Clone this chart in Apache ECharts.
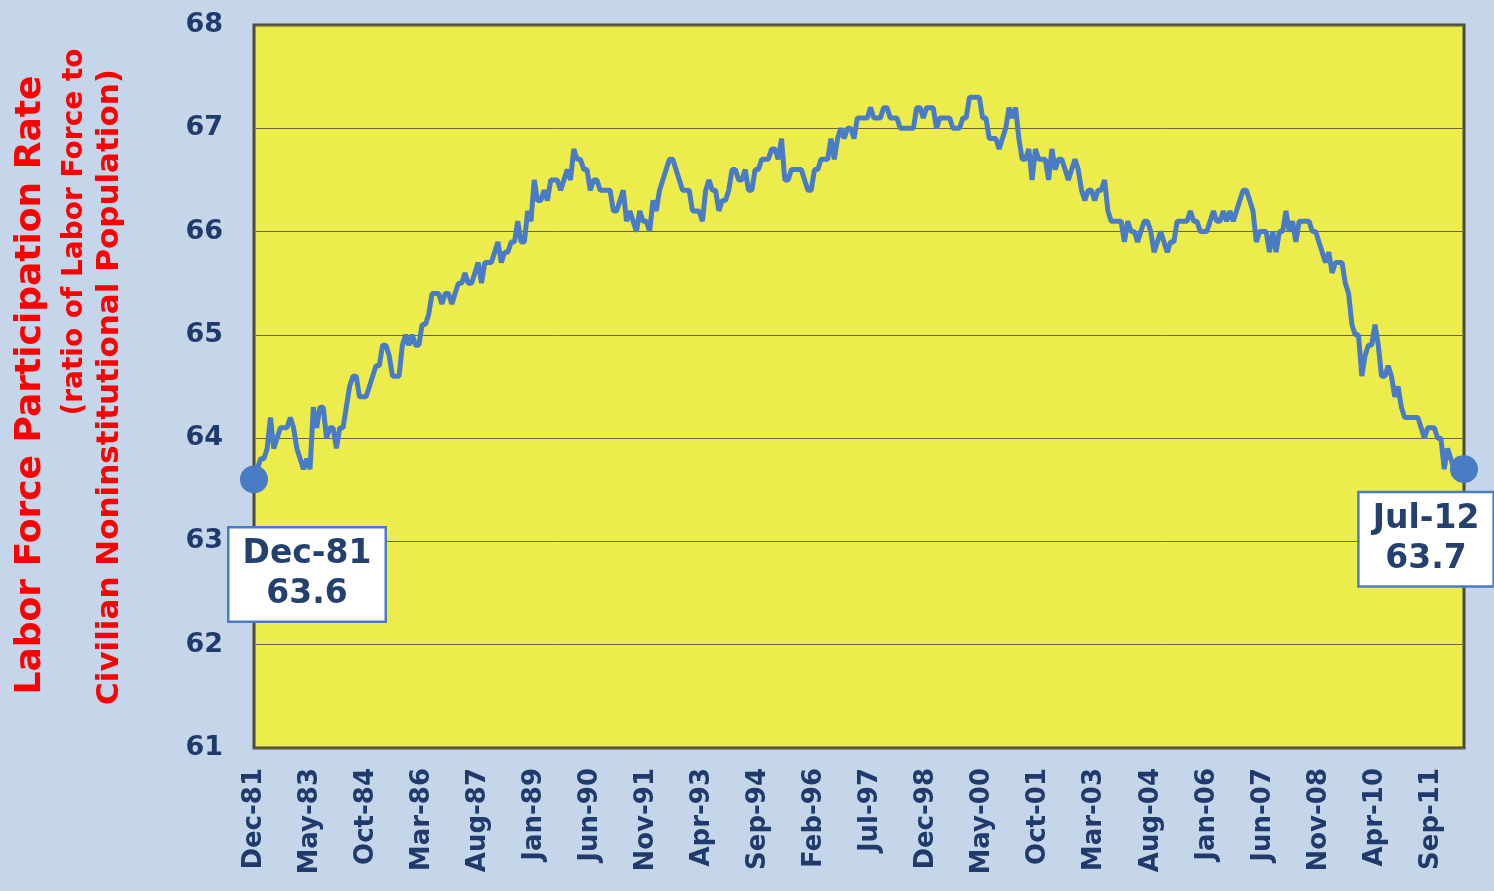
<!DOCTYPE html>
<html>
<head>
<meta charset="utf-8">
<title>Labor Force Participation Rate</title>
<script src="https://cdn.jsdelivr.net/npm/echarts@6/dist/echarts.min.js"></script>
<style>
  html, body { margin: 0; padding: 0; background: #c6d6ea; }
  #chart { width: 1494px; height: 891px; }
</style>
</head>
<body>
<div id="chart"></div>
<script>
// monthly rate, Dec-81 .. Jul-12
const rate1981 = [63.6]
const rate1982 = [63.7, 63.8, 63.8, 63.9, 64.2, 63.9, 64.0, 64.1, 64.1, 64.1, 64.2, 64.1]
const rate1983 = [63.9, 63.8, 63.7, 63.8, 63.7, 64.3, 64.1, 64.3, 64.3, 64.0, 64.1, 64.1]
const rate1984 = [63.9, 64.1, 64.1, 64.3, 64.5, 64.6, 64.6, 64.4, 64.4, 64.4, 64.5, 64.6]
const rate1985 = [64.7, 64.7, 64.9, 64.9, 64.8, 64.6, 64.6, 64.6, 64.9, 65.0, 64.9, 65.0]
const rate1986 = [64.9, 64.9, 65.1, 65.1, 65.2, 65.4, 65.4, 65.4, 65.3, 65.4, 65.4, 65.3]
const rate1987 = [65.4, 65.5, 65.5, 65.6, 65.5, 65.5, 65.6, 65.7, 65.5, 65.7, 65.7, 65.7]
const rate1988 = [65.8, 65.9, 65.7, 65.8, 65.8, 65.9, 65.9, 66.1, 65.9, 65.9, 66.2, 66.1]
const rate1989 = [66.5, 66.3, 66.3, 66.4, 66.3, 66.5, 66.5, 66.5, 66.4, 66.5, 66.6, 66.5]
const rate1990 = [66.8, 66.7, 66.7, 66.6, 66.6, 66.4, 66.5, 66.5, 66.4, 66.4, 66.4, 66.4]
const rate1991 = [66.2, 66.2, 66.3, 66.4, 66.1, 66.2, 66.1, 66.0, 66.2, 66.1, 66.1, 66.0]
const rate1992 = [66.3, 66.2, 66.4, 66.5, 66.6, 66.7, 66.7, 66.6, 66.5, 66.4, 66.4, 66.4]
const rate1993 = [66.2, 66.2, 66.2, 66.1, 66.4, 66.5, 66.4, 66.4, 66.2, 66.3, 66.3, 66.4]
const rate1994 = [66.6, 66.6, 66.5, 66.5, 66.6, 66.4, 66.4, 66.6, 66.6, 66.7, 66.7, 66.7]
const rate1995 = [66.8, 66.8, 66.7, 66.9, 66.5, 66.5, 66.6, 66.6, 66.6, 66.6, 66.5, 66.4]
const rate1996 = [66.4, 66.6, 66.6, 66.7, 66.7, 66.7, 66.9, 66.7, 66.9, 67.0, 66.9, 67.0]
const rate1997 = [67.0, 66.9, 67.1, 67.1, 67.1, 67.1, 67.2, 67.1, 67.1, 67.1, 67.2, 67.2]
const rate1998 = [67.1, 67.1, 67.1, 67.0, 67.0, 67.0, 67.0, 67.0, 67.2, 67.2, 67.1, 67.2]
const rate1999 = [67.2, 67.2, 67.0, 67.1, 67.1, 67.1, 67.1, 67.0, 67.0, 67.0, 67.1, 67.1]
const rate2000 = [67.3, 67.3, 67.3, 67.3, 67.1, 67.1, 66.9, 66.9, 66.9, 66.8, 66.9, 67.0]
const rate2001 = [67.2, 67.1, 67.2, 66.9, 66.7, 66.7, 66.8, 66.5, 66.8, 66.7, 66.7, 66.7]
const rate2002 = [66.5, 66.8, 66.6, 66.7, 66.7, 66.6, 66.5, 66.6, 66.7, 66.6, 66.4, 66.3]
const rate2003 = [66.4, 66.4, 66.3, 66.4, 66.4, 66.5, 66.2, 66.1, 66.1, 66.1, 66.1, 65.9]
const rate2004 = [66.1, 66.0, 66.0, 65.9, 66.0, 66.1, 66.1, 66.0, 65.8, 65.9, 66.0, 65.9]
const rate2005 = [65.8, 65.9, 65.9, 66.1, 66.1, 66.1, 66.1, 66.2, 66.1, 66.1, 66.0, 66.0]
const rate2006 = [66.0, 66.1, 66.2, 66.1, 66.1, 66.2, 66.1, 66.2, 66.1, 66.2, 66.3, 66.4]
const rate2007 = [66.4, 66.3, 66.2, 65.9, 66.0, 66.0, 66.0, 65.8, 66.0, 65.8, 66.0, 66.0]
const rate2008 = [66.2, 66.0, 66.1, 65.9, 66.1, 66.1, 66.1, 66.1, 66.0, 66.0, 65.9, 65.8]
const rate2009 = [65.7, 65.8, 65.6, 65.7, 65.7, 65.7, 65.5, 65.4, 65.1, 65.0, 65.0, 64.6]
const rate2010 = [64.8, 64.9, 64.9, 65.1, 64.9, 64.6, 64.6, 64.7, 64.6, 64.4, 64.5, 64.3]
const rate2011 = [64.2, 64.2, 64.2, 64.2, 64.2, 64.1, 64.0, 64.1, 64.1, 64.1, 64.0, 64.0]
const rate2012 = [63.7, 63.9, 63.8, 63.7, 63.8, 63.8, 63.7]

const monthNames = ['Jan', 'Feb', 'Mar', 'Apr', 'May', 'Jun', 'Jul', 'Aug', 'Sep', 'Oct', 'Nov', 'Dec']
const yTicks = [61, 62, 63, 64, 65, 66, 67, 68]

const rates = [].concat(
  rate1981, rate1982, rate1983, rate1984, rate1985, rate1986, rate1987, rate1988,
  rate1989, rate1990, rate1991, rate1992, rate1993, rate1994, rate1995, rate1996,
  rate1997, rate1998, rate1999, rate2000, rate2001, rate2002, rate2003, rate2004,
  rate2005, rate2006, rate2007, rate2008, rate2009, rate2010, rate2011, rate2012
)

// category labels like Dec-81, Jan-82 ...
const months = rates.map((v, i) => {
  let m = (11 + i) % 12
  let y = 1981 + Math.floor((11 + i) / 12)
  return monthNames[m] + '-' + String(y).slice(2)
})

const navy = '#1f3a6b'
const lineBlue = '#4a7cc6'
const last = rates.length - 1

const boxLabel = {
  show: true,
  position: 'inside',
  color: '#23406e',
  fontFamily: 'DejaVu Sans',
  fontWeight: 'bold',
  fontSize: 33,
  lineHeight: 40,
  backgroundColor: '#ffffff',
  borderColor: '#4a7cc6',
  borderWidth: 2.5,
  padding: [7, 13, 5, 13],
  align: 'center',
  verticalAlign: 'middle'
}

const seriesData = rates.map((v, i) => {
  if (i === 0) {
    return {value: v, symbolSize: 28, label: Object.assign({}, boxLabel, {
      formatter: months[i] + '\n' + v.toFixed(1), offset: [53, 95]})}
  }
  if (i === last) {
    return {value: v, symbolSize: 28, label: Object.assign({}, boxLabel, {
      formatter: months[i] + '\n' + v.toFixed(1), offset: [-38, 70]})}
  }
  return {value: v, symbolSize: 0}
})

const chart = echarts.init(document.getElementById('chart'), null, {renderer: 'canvas'})

chart.setOption({
  backgroundColor: '#c6d6ea',
  animation: false,
  grid: {
    left: 254,
    right: 30,
    top: 25,
    bottom: 143,
    show: true,
    backgroundColor: '#ecec4c',
    borderColor: '#4b4a3c',
    borderWidth: 3
  },
  xAxis: {
    type: 'category',
    data: months,
    boundaryGap: false,
    axisLine: {show: false},
    axisTick: {show: false},
    splitLine: {show: false},
    axisLabel: {
      interval: 16,
      rotate: 90,
      margin: 20,
      color: navy,
      fontFamily: 'DejaVu Sans',
      fontWeight: 'bold',
      fontSize: 26
    }
  },
  yAxis: {
    type: 'value',
    min: 61,
    max: 68,
    interval: 1,
    axisLine: {show: false},
    axisTick: {show: false},
    splitLine: {lineStyle: {color: '#6f6540', width: 1}},
    axisLabel: {
      margin: 31,
      color: navy,
      fontFamily: 'DejaVu Sans',
      fontWeight: 'bold',
      fontSize: 27,
      formatter: v => yTicks.indexOf(v) >= 0 ? String(v) : ''
    }
  },
  graphic: [
    {
      type: 'text',
      x: 31, y: 385,
      rotation: Math.PI / 2,
      style: {
        text: 'Labor Force Participation Rate',
        fill: '#ff0000',
        font: 'bold 36px "DejaVu Sans"',
        align: 'center',
        verticalAlign: 'middle'
      }
    },
    {
      type: 'text',
      x: 75, y: 232,
      rotation: Math.PI / 2,
      style: {
        text: '(ratio of Labor Force to',
        fill: '#ff0000',
        font: 'bold 28px "DejaVu Sans"',
        align: 'center',
        verticalAlign: 'middle'
      }
    },
    {
      type: 'text',
      x: 110, y: 387,
      rotation: Math.PI / 2,
      style: {
        text: 'Civilian Noninstitutional Population)',
        fill: '#ff0000',
        font: 'bold 31px "DejaVu Sans"',
        align: 'center',
        verticalAlign: 'middle'
      }
    }
  ],
  series: [
    {
      name: 'Labor Force Participation Rate',
      type: 'line',
      data: seriesData,
      symbol: 'circle',
      showAllSymbol: true,
      itemStyle: {color: lineBlue},
      lineStyle: {color: lineBlue, width: 5},
      emphasis: {disabled: true},
      z: 5
    }
  ]
})
</script>
</body>
</html>
